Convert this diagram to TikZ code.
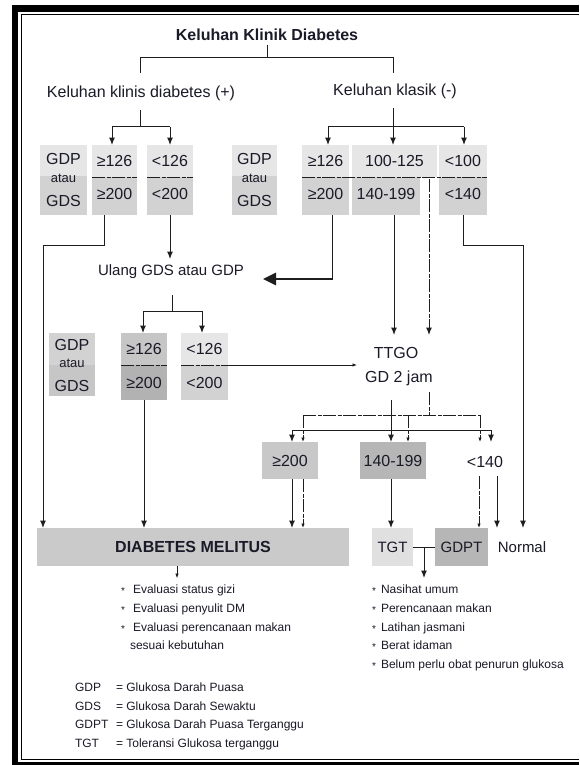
\documentclass[tikz,border=0pt]{standalone}
\usepackage{fontspec}
\setmainfont{Liberation Sans}
\usetikzlibrary{arrows.meta}
\definecolor{txt}{HTML}{1A1A28}
\definecolor{lnc}{HTML}{1E1E1E}
\definecolor{cA}{HTML}{E6E6E6}
\definecolor{cB}{HTML}{D2D2D2}
\definecolor{cC}{HTML}{C6C6C6}
\definecolor{cD}{HTML}{B2B2B2}
\definecolor{cE}{HTML}{C8C8C8}
\definecolor{cF}{HTML}{B6B6B6}
\definecolor{cG}{HTML}{E0E0E0}
\definecolor{cH}{HTML}{CACACA}
\newcommand{\bul}{\makebox[0pt][l]{\raisebox{-1.2pt}{\fontsize{10}{10}\selectfont *}}}
\begin{document}
\begin{tikzpicture}[x=1pt,y=-1pt,
  ln/.style={line width=1pt,draw=lnc},
  ar/.style={-{Latex[length=7.5pt,width=6pt]}},
  sar/.style={-{Latex[length=4.5pt,width=3.5pt]}},
  dsh/.style={dash pattern=on 13pt off 1.5pt on 4pt off 1.5pt},
  cell/.style={inner sep=0pt,outer sep=0pt,draw=none},
  fa/.style={inner sep=0pt,outer sep=0pt,text=txt,font=\fontsize{16}{16}\selectfont,text height=11.5pt,text depth=0pt},
  fb/.style={inner sep=0pt,outer sep=0pt,text=txt,font=\fontsize{16}{16}\selectfont\bfseries,text height=11.5pt,text depth=0pt},
  fc/.style={inner sep=0pt,outer sep=0pt,text=txt,font=\fontsize{15}{15}\selectfont,text height=10.7pt,text depth=0pt},
  fd/.style={inner sep=0pt,outer sep=0pt,text=txt,font=\fontsize{12}{12}\selectfont,text height=8.6pt,text depth=0pt},
  fe/.style={inner sep=0pt,outer sep=0pt,text=txt,font=\fontsize{13}{13}\selectfont,text height=6.75pt,text depth=0pt},
  lift/.style={text depth=5pt},
]
\useasboundingbox (0,0) rectangle (579,765);
\fill[white] (0,0) rectangle (579,765);
% frame
\fill[black] (11.5,5) rectangle (579,12);
\fill[black] (11.5,5) rectangle (18,765);
\fill[black] (11.5,762) rectangle (579,765);
\draw[line width=0.8pt] (579,14.5) -- (21,14.5) -- (21,759) -- (579,759);

% headings
\node[fb] (title) at (267,35) {Keluhan Klinik Diabetes};
\node[fa] (kl) at (141,92) {Keluhan klinis diabetes (+)};
\node[fa] (kk) at (395,90) {Keluhan klasik (-)};

% row 1 cells
\node[cell,fill=cA,minimum width=47pt,minimum height=31pt] (g1t) at (63.5,160.5) {};
\node[cell,fill=cB,minimum width=47pt,minimum height=39pt] (g1b) at (63.5,195.5) {};
\node[fa] (g1x) at (63.5,159) {GDP};
\node[fe] (g1y) at (63.5,179) {atau};
\node[fa] (g1z) at (63.5,201) {GDS};
\node[cell,fa,fill=cA,minimum width=45pt,minimum height=32pt] (b1t) at (114.5,161) {≥126};
\node[cell,fa,lift,fill=cB,minimum width=45pt,minimum height=38pt] (b1b) at (114.5,196) {≥200};
\node[cell,fa,fill=cA,minimum width=46pt,minimum height=32pt] (b2t) at (170,161) {<126};
\node[cell,fa,lift,fill=cB,minimum width=46pt,minimum height=38pt] (b2b) at (170,196) {<200};
\node[cell,fill=cA,minimum width=45pt,minimum height=31pt] (g2t) at (254.5,160.5) {};
\node[cell,fill=cB,minimum width=45pt,minimum height=39pt] (g2b) at (254.5,195.5) {};
\node[fa] (g2x) at (254.5,159) {GDP};
\node[fe] (g2y) at (254.5,179) {atau};
\node[fa] (g2z) at (254.5,201) {GDS};
\node[cell,fa,fill=cA,minimum width=47pt,minimum height=32pt] (b3t) at (325.5,161) {≥126};
\node[cell,fa,lift,fill=cB,minimum width=47pt,minimum height=38pt] (b3b) at (325.5,196) {≥200};
\node[cell,fa,fill=cA,minimum width=85pt,minimum height=32pt] (b4t) at (394.5,161) {100-125};
\node[cell,fa,lift,fill=cB,minimum width=68pt,minimum height=38pt] (b4b) at (386,196) {140-199};
\node[cell,fa,fill=cA,minimum width=48pt,minimum height=32pt] (b5t) at (463,161) {<100};
\node[cell,fa,lift,fill=cB,minimum width=48pt,minimum height=38pt] (b5b) at (463,196) {<140};

\draw[ln,dsh] (b1b.north west) -- (b1b.north east);
\draw[ln,dsh] (b2b.north west) -- (b2b.north east);
\draw[ln,dsh] (b3b.north west) -- (b5b.north east);

% heading connectors
\coordinate (h0) at (267,58);
\coordinate (hL) at (140,58);
\coordinate (hR) at (393,58);
\coordinate (hL2) at (140,73);
\coordinate (hR2) at (393,73);
\draw[ln] ([yshift=-4pt]title.south) -- (h0);
\draw[ln] (hL2) -- (hL) -- (hR) -- (hR2);

\coordinate (kL0) at (140,110);
\coordinate (r1L) at (112,127);
\coordinate (r1M) at (140,127);
\coordinate (r1R) at (170,127);
\draw[ln] (kL0) -- (r1M);
\draw[ln] (r1L) -- (r1R);
\draw[ln,ar] (r1L) -- (r1L |- b1t.north);
\draw[ln,ar] (r1R) -- (r1R |- b2t.north);

\coordinate (kR0) at (393,108);
\coordinate (r2L) at (328,127);
\coordinate (r2M) at (393,127);
\coordinate (r2R) at (464,127);
\draw[ln] (kR0) -- (r2M);
\draw[ln] (r2L) -- (r2R);
\draw[ln,ar] (r2L) -- (r2L |- b3t.north);
\draw[ln,ar] (r2M) -- (r2M |- b4t.north);
\draw[ln,ar] (r2R) -- (r2R |- b5t.north);

% Ulang
\node[fc] (ulang) at (171,270) {Ulang GDS atau GDP};

% row 2 cells
\node[cell,fill=cB,minimum width=46pt,minimum height=32pt] (g3t) at (72,349) {};
\node[cell,fill=cC,minimum width=46pt,minimum height=31pt] (g3b) at (72,380.5) {};
\node[fa] (g3x) at (72,345) {GDP};
\node[fe] (g3y) at (72,364) {atau};
\node[fa] (g3z) at (72,386) {GDS};
\node[cell,fa,fill=cC,minimum width=46pt,minimum height=32pt] (b6t) at (144,349) {≥126};
\node[cell,fa,fill=cD,minimum width=46pt,minimum height=35pt] (b6b) at (144,382.5) {≥200};
\node[cell,fa,fill=cA,minimum width=47pt,minimum height=32pt] (b7t) at (204.5,349) {<126};
\node[cell,fa,fill=cB,minimum width=47pt,minimum height=35pt] (b7b) at (204.5,382.5) {<200};
\draw[ln,dsh] (b6b.north west) -- (b6b.north east);
\draw[ln,dsh] (b7b.north west) -- (b7b.north east);

% TTGO
\node[fa] (ttgo1) at (396,353) {TTGO};
\node[fa] (ttgo2) at (399,377) {GD 2 jam};
\coordinate (ttgoW) at (357,365);
\draw[line width=0.8pt,draw=lnc,sar] (b7b.north east) -- (ttgoW);

% row 3
\node[cell,fa,fill=cE,minimum width=56pt,minimum height=37pt] (c1) at (290,460.5) {≥200};
\node[cell,fa,fill=cF,minimum width=66pt,minimum height=37pt] (c2) at (393,460.5) {140-199};
\node[fa] (c3) at (485,462) {<140};

% row 4
\node[cell,fb,fill=cH,minimum width=312pt,minimum height=38pt] (dm) at (193,547) {DIABETES MELITUS};
\node[cell,fc,fill=cG,minimum width=41pt,minimum height=38pt] (tgt) at (392.5,547) {TGT};
\node[cell,fc,fill=cF,minimum width=53pt,minimum height=38pt] (gdpt) at (461.5,547) {GDPT};
\node[fc] (normal) at (522,547) {Normal};

% connectors from row 1
\coordinate (p1) at (104,245);
\coordinate (p2) at (43,245);
\draw[ln] (b1b.south -| p1) -- (p1) -- (p2);
\draw[ln,ar] (p2) -- (p2 |- dm.north);

\coordinate (u0) at (170,259);
\draw[ln,ar] (b2b.south) -- (u0);

\coordinate (p3) at (332,279);
\coordinate (bigtip) at (263,279);
\draw[ln] (b3b.south -| p3) -- (p3);
\draw[line width=2.6pt,draw=lnc,-{Triangle[length=13pt,width=12pt]}] ([xshift=0.5pt]p3) -- (bigtip);

\coordinate (tv1) at (394,335);
\draw[ln,ar] (b4b.south -| tv1) -- (tv1);
\coordinate (dv0) at (429,179);
\coordinate (dv1) at (429,335);
\draw[ln,dsh,ar] (dv0) -- (dv1);

\coordinate (p4) at (463,245);
\coordinate (p5) at (523,245);
\coordinate (p6) at (523,528);
\draw[ln] (b5b.south) -- (p4) -- (p5);
\draw[ln,ar] (p5) -- (p6);

% Ulang to row 2
\coordinate (q0) at (172,295);
\coordinate (q1) at (143,311);
\coordinate (q2) at (202,311);
\draw[ln] (q0) -- (q0 |- q1);
\draw[ln] (q1) -- (q2);
\draw[ln,ar] (q1) -- (q1 |- b6t.north);
\draw[ln,ar] (q2) -- (q2 |- b7t.north);
\draw[ln,ar] (b6b.south) -- (b6b.south |- dm.north);

% TTGO to row 3
\coordinate (s0) at (391,400);
\coordinate (d0) at (429,392);
\coordinate (d1) at (429,415);
\coordinate (dl) at (303,415);
\coordinate (dm2) at (408,415);
\coordinate (dr) at (480,415);
\coordinate (sl) at (292,430);
\coordinate (sr) at (491,430);
\draw[ln,dsh] (d0) -- (d1);
\draw[ln,dsh] (dl) -- (dr);
\draw[ln] (sl) -- (sr);
\draw[ln,ar] (s0) -- (s0 |- c2.north);
\draw[ln,ar] (sl) -- (sl |- c1.north);
\draw[ln,ar] (sr) -- (sr |- c1.north);
\draw[ln,dsh,sar] (dl) -- (dl |- c1.north);
\draw[ln,dsh,sar] (dm2) -- (dm2 |- c1.north);
\draw[ln,dsh,sar] (dr) -- (dr |- c1.north);

% row 3 to row 4
\draw[ln,ar] (c1.south -| sl) -- (sl |- dm.north);
\draw[ln,dsh,sar] (c1.south -| dl) -- (dl |- dm.north);
\draw[ln,ar] (c2.south -| s0) -- (s0 |- tgt.north);
\coordinate (e0) at (479,476);
\coordinate (e1) at (497,476);
\draw[ln,dsh,sar] (e0) -- (e0 |- gdpt.north);
\draw[ln,ar] (e1) -- (e1 |- gdpt.north);

% TGT-GDPT
\coordinate (t0) at (424,547);
\coordinate (t1) at (424,578);
\draw[ln] (tgt.east) -- (gdpt.west);
\draw[ln,ar] (t0) -- (t1);
\coordinate (m0) at (177,578);
\draw[line width=0.6pt,draw=lnc,sar] (dm.south -| m0) -- (m0);

% bullet lists
\node[fd,anchor=west] (l1) at (121,589) {\makebox[12pt][l]{\bul}Evaluasi status gizi};
\node[fd,anchor=west] (l2) at (121,608) {\makebox[12pt][l]{\bul}Evaluasi penyulit DM};
\node[fd,anchor=west] (l3) at (121,627) {\makebox[12pt][l]{\bul}Evaluasi perencanaan makan};
\node[fd,anchor=west] (l4) at (130,645) {sesuai kebutuhan};
\node[fd,anchor=west] (r1) at (372,589) {\makebox[9pt][l]{\bul}Nasihat umum};
\node[fd,anchor=west] (r2) at (372,608) {\makebox[9pt][l]{\bul}Perencanaan makan};
\node[fd,anchor=west] (r3) at (372,627) {\makebox[9pt][l]{\bul}Latihan jasmani};
\node[fd,anchor=west] (r4) at (372,645) {\makebox[9pt][l]{\bul}Berat idaman};
\node[fd,anchor=west] (r5) at (372,664) {\makebox[9pt][l]{\bul}Belum perlu obat penurun glukosa};

% legend
\node[fd,anchor=west] (a1) at (75,687) {GDP};
\node[fd,anchor=west] (a2) at (75,706) {GDS};
\node[fd,anchor=west] (a3) at (75,724) {GDPT};
\node[fd,anchor=west] (a4) at (75,743) {TGT};
\node[fd,anchor=west] (e1t) at (116,687) {= Glukosa Darah Puasa};
\node[fd,anchor=west] (e2t) at (116,706) {= Glukosa Darah Sewaktu};
\node[fd,anchor=west] (e3t) at (116,724) {= Glukosa Darah Puasa Terganggu};
\node[fd,anchor=west] (e4t) at (116,743) {= Toleransi Glukosa terganggu};
\end{tikzpicture}
\end{document}
